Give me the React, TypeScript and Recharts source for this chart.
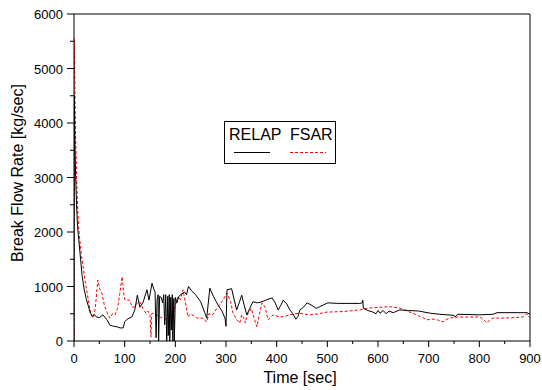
import React from "react";
import { LineChart, Line, XAxis, YAxis, ReferenceLine } from "recharts";

// RELAP calculation (black solid)
const relapTime = [
  0, 0.5, 1, 2, 3, 5, 7, 10, 13, 16, 20, 24, 28, 32, 36, 40, 45, 50, 57, 65, 71, 78, 85, 91, 97,
  100, 105, 114, 120, 125, 130, 136, 144, 148, 154, 158, 160, 162, 164, 166, 167, 169, 172, 175,
  177, 179, 181, 183, 185, 186, 188, 189, 191, 192, 194, 195, 197, 198, 200, 203, 207, 212, 218,
  222, 226, 232, 240, 250, 258, 262, 268, 275, 285, 292, 298, 300, 302, 311, 321, 326, 331, 336,
  341, 347, 353, 362, 371, 381, 391, 397, 403, 408, 413, 420, 426, 432, 438, 442, 446, 453, 460,
  470, 478, 485, 492, 501, 520, 545, 564, 569, 570, 571, 580, 590, 596, 600, 604, 610, 616, 622,
  630, 643, 660, 680, 703, 722, 750, 752, 757, 800, 827, 835, 894, 900,
];
const relapFlow = [
  0, 4500, 4200, 3600, 3100, 2500, 2100, 1800, 1500, 1200, 950, 780, 650, 520, 460, 480, 440, 430,
  480, 390, 290, 270, 260, 240, 240, 350, 400, 440, 570, 840, 620, 700, 940, 750, 1060, 940, 900,
  60, 750, 850, 0, 820, 800, 700, 850, 300, 850, 0, 820, 100, 850, 0, 800, 200, 850, 0, 780, 0,
  800, 700, 820, 860, 900, 850, 1000, 920, 850, 720, 520, 420, 970, 820, 650, 550, 420, 270, 940,
  960, 570, 700, 840, 650, 480, 600, 720, 700, 720, 760, 790, 700, 570, 650, 750, 680, 570, 500,
  400, 450, 570, 620, 700, 650, 600, 630, 660, 700, 690, 690, 690, 700, 750, 600, 560, 530, 500,
  560, 510, 560, 500, 550, 520, 570, 560, 550, 510, 490, 470, 440, 490, 480, 490, 520, 520, 490,
];

// FSAR result (red dashed)
const fsarTime = [
  0, 0.3, 1, 2, 3, 5, 7, 9, 12, 15, 18, 22, 26, 30, 34, 38, 42, 47, 51, 55, 60, 65, 71, 76, 81,
  86, 90, 95, 99, 101, 110, 115, 120, 125, 130, 136, 142, 146, 150, 152, 153, 156, 162, 170, 180,
  188, 195, 200, 205, 210, 215, 220, 225, 230, 243, 255, 262, 266, 274, 282, 292, 302, 309, 314,
  321, 327, 331, 335, 338, 341, 344, 350, 356, 361, 366, 371, 377, 383, 388, 393, 406, 416, 426,
  436, 446, 456, 466, 483, 499, 530, 564, 578, 604, 624, 644, 660, 669, 680, 690, 697, 710, 720,
  728, 740, 756, 780, 801, 810, 815, 820, 827, 850, 886, 894, 900,
];
const fsarFlow = [
  0, 5550, 5300, 4500, 3800, 3000, 2500, 2100, 1800, 1550, 1360, 1100, 880, 650, 480, 420, 600,
  1120, 950, 880, 650, 530, 420, 500, 480, 600, 850, 1180, 800, 750, 750, 620, 630, 700, 720, 600,
  510, 550, 480, 70, 500, 510, 480, 440, 400, 450, 510, 650, 810, 760, 940, 700, 440, 500, 420,
  420, 350, 500, 480, 600, 720, 880, 720, 510, 390, 330, 480, 420, 330, 450, 510, 600, 400, 260,
  500, 700, 620, 390, 430, 480, 440, 450, 480, 500, 510, 490, 480, 500, 530, 540, 570, 600, 620,
  630, 600, 540, 510, 460, 420, 390, 400, 380, 350, 420, 440, 440, 440, 380, 330, 380, 420, 420,
  440, 500, 420,
];

const xTicks = [0, 50, 100, 150, 200, 250, 300, 350, 400, 450, 500, 550, 600, 650, 700, 750, 800, 850, 900];
const yTicks = [0, 500, 1000, 1500, 2000, 2500, 3000, 3500, 4000, 4500, 5000, 5500, 6000];

const relapData = relapTime.map((t, i) => ({ t, v: relapFlow[i] }));
const fsarData = fsarTime.map((t, i) => ({ t, v: fsarFlow[i] }));

const FONT = "'Liberation Sans', Arial, sans-serif";

function XTick(props: any) {
  const { x, y, payload } = props;
  const major = payload.value % 100 === 0;
  return (
    <g>
      <line x1={x} x2={x} y1={y} y2={y + (major ? 6 : 3)} stroke="#000" />
      {major && (
        <text x={x} y={y + 22} textAnchor="middle" fontSize={13} fontFamily={FONT} fill="#000">
          {payload.value}
        </text>
      )}
    </g>
  );
}

function YTick(props: any) {
  const { x, y, payload } = props;
  const major = payload.value % 1000 === 0;
  return (
    <g>
      <line x1={x} x2={x - (major ? 7 : 4)} y1={y} y2={y} stroke="#000" />
      {major && (
        <text x={x - 11} y={y + 5} textAnchor="end" fontSize={13} fontFamily={FONT} fill="#000">
          {payload.value}
        </text>
      )}
    </g>
  );
}

export default function App() {
  return (
    <div style={{ position: "absolute", left: 0, top: 0, width: 542, height: 390, background: "#fff" }}>
      <LineChart width={542} height={390} margin={{ top: 14, right: 12, left: 0, bottom: 0 }}>
        <XAxis
          type="number"
          dataKey="t"
          domain={[0, 900]}
          ticks={xTicks}
          interval={0}
          tick={<XTick />}
          tickLine={false}
          tickSize={0}
          tickMargin={0}
          height={49}
          axisLine={{ stroke: "#000" }}
          allowDataOverflow
        />
        <YAxis
          type="number"
          dataKey="v"
          domain={[0, 6000]}
          ticks={yTicks}
          interval={0}
          tick={<YTick />}
          tickLine={false}
          tickSize={0}
          tickMargin={0}
          width={74}
          axisLine={{ stroke: "#000" }}
          allowDataOverflow
        />
        <ReferenceLine y={6000} stroke="#000" />
        <ReferenceLine x={900} stroke="#000" />
        <Line
          data={fsarData}
          dataKey="v"
          type="linear"
          stroke="#ff0000"
          strokeWidth={1}
          strokeDasharray="3 2"
          dot={false}
          isAnimationActive={false}
        />
        <Line
          data={relapData}
          dataKey="v"
          type="linear"
          stroke="#000"
          strokeWidth={1}
          dot={false}
          isAnimationActive={false}
        />
        <text x={300} y={383} textAnchor="middle" fontSize={16} fontFamily={FONT} fill="#000">
          Time [sec]
        </text>
        <text
          x={23}
          y={173}
          transform="rotate(-90 23 173)"
          textAnchor="middle"
          fontSize={16}
          fontFamily={FONT}
          fill="#000"
        >
          Break Flow Rate [kg/sec]
        </text>
      </LineChart>
      <svg
        width={112}
        height={43}
        style={{ position: "absolute", left: 224, top: 121 }}
      >
        <rect x={0.5} y={0.5} width={111} height={42} fill="#fff" stroke="#000" />
        <text x={5} y={19} fontSize={16} fontFamily={FONT} fill="#000">RELAP</text>
        <text x={66} y={19} fontSize={16} fontFamily={FONT} fill="#000">FSAR</text>
        <line x1={10} x2={46} y1={31.5} y2={31.5} stroke="#000" />
        <line x1={66} x2={102} y1={31.5} y2={31.5} stroke="#ff0000" strokeDasharray="3 2" />
      </svg>
    </div>
  );
}
